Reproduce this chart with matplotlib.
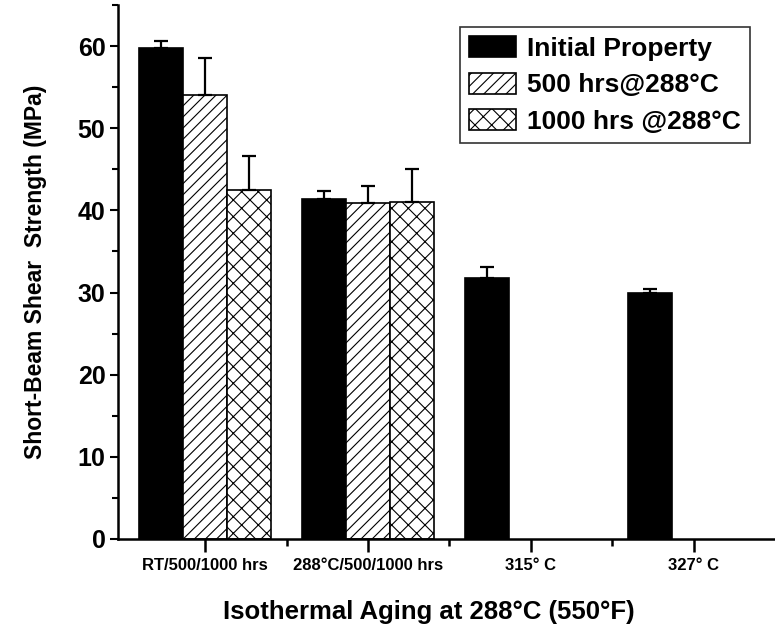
import numpy as np
import matplotlib.pyplot as plt
from matplotlib.ticker import MultipleLocator, FixedLocator

plt.rcParams['font.family'] = ['Liberation Sans', 'DejaVu Sans']
plt.rcParams['hatch.linewidth'] = 0.8

# data
categories = ['RT/500/1000 hrs', '288°C/500/1000 hrs', '315° C', '327° C']
initial = [59.8, 41.4, 31.8, 30.0]
initial_err = [0.8, 0.9, 1.3, 0.4]
aged_500 = [54.0, 40.9]
aged_500_err = [4.6, 2.1]
aged_1000 = [42.5, 41.0]
aged_1000_err = [4.1, 4.0]

x = np.arange(len(categories))
w = 0.27

fig = plt.figure(figsize=(7.75, 6.39), dpi=100)
ax = fig.add_axes([0.1523, 0.1565, 0.8477, 0.8357])

ekw = dict(ecolor='black', elinewidth=1.6, capsize=5, capthick=1.6)
ax.bar(x - w, initial, w, color='black', edgecolor='black', linewidth=1.2,
       yerr=[np.zeros(len(initial)), initial_err], error_kw=ekw,
       label='Initial Property')
x2 = x[:len(aged_500)]
ax.bar(x2, aged_500, w, color='white', edgecolor='black', linewidth=1.2,
       hatch='///', yerr=[np.zeros(len(aged_500)), aged_500_err],
       error_kw=ekw, label='500 hrs@288°C')
ax.bar(x2 + w, aged_1000, w, color='white', edgecolor='black', linewidth=1.2,
       hatch='xx', yerr=[np.zeros(len(aged_1000)), aged_1000_err],
       error_kw=ekw, label='1000 hrs @288°C')

ax.set_xlim(-0.535, 3.5)
ax.set_ylim(0, 65)
ax.set_xticks(x)
ax.set_xticklabels(categories, fontsize=12, fontweight='bold')
ax.xaxis.set_minor_locator(FixedLocator([0.5, 1.5, 2.5]))
ax.yaxis.set_major_locator(MultipleLocator(10))
ax.yaxis.set_minor_locator(MultipleLocator(5))
for lab in ax.get_yticklabels():
    lab.set_fontsize(18)
    lab.set_fontweight('bold')

ax.spines['top'].set_visible(False)
ax.spines['right'].set_visible(False)
ax.spines['left'].set_linewidth(1.8)
ax.spines['bottom'].set_linewidth(1.8)
ax.tick_params(axis='x', which='major', length=9, width=1.8, pad=5)
ax.tick_params(axis='x', which='minor', length=5, width=1.8)
ax.tick_params(axis='y', which='major', length=6, width=1.5, pad=3)
ax.tick_params(axis='y', which='minor', length=4, width=1.5)

ax.set_ylabel('Short-Beam Shear  Strength (MPa)', fontsize=16.5, fontweight='bold',
              labelpad=22)
ax.set_xlabel('Isothermal Aging at 288°C (550°F)', fontsize=18.5,
              fontweight='bold', labelpad=18)
ax.xaxis.set_label_coords(0.473, -0.115)

leg = ax.legend(loc='upper right', bbox_to_anchor=(750 / 775, 1 - 27 / 639),
                bbox_transform=fig.transFigure, prop={'size': 19, 'weight': 'bold'},
                fancybox=False, edgecolor='#333333', framealpha=1,
                handlelength=1.8, handleheight=0.85, labelspacing=0.45,
                handletextpad=0.4, borderpad=0.35, borderaxespad=0)
leg.get_frame().set_linewidth(1.2)

fig.savefig('out.png', dpi=100)
